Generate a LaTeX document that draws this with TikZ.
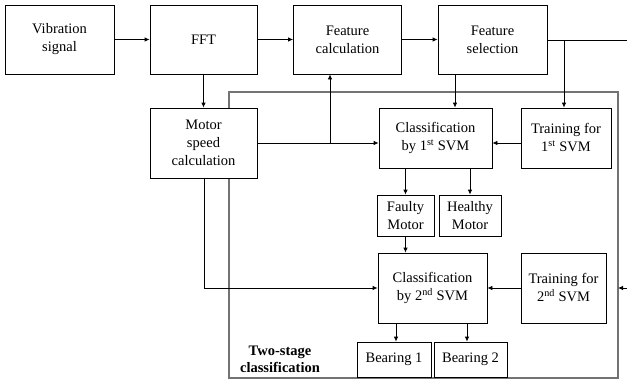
\documentclass[tikz,border=0pt]{standalone}
\usepackage{fontspec}
\setmainfont{Liberation Serif}
\usetikzlibrary{arrows.meta}
\tikzset{
  block/.style={
    draw=black,
    fill=white,
    line width=0.8pt,
    align=center,
    inner sep=1pt,
    font=\fontsize{14.5}{18}\selectfont
  },
  flow/.style={
    line width=0.8pt,
    -{Latex[length=5pt,width=4.5pt]}
  },
  wire/.style={line width=0.8pt},
  stage-frame/.style={draw=black!55, line width=1.4pt}
}

\begin{document}
\begin{tikzpicture}[x=1pt,y=-1pt]
  \useasboundingbox (0,0) rectangle (627,380);
  % Two-stage frame
  \draw[stage-frame] (229,92) rectangle (618,378);
  \node[font=\fontsize{14.5}{17}\selectfont\bfseries, align=center] (stage) at (280,359) {Two-stage\\classification};
  % Top row
  \node[block, minimum width=109pt, minimum height=69pt] (vib) at (59.5,39.5) {Vibration\\signal};
  \node[block, minimum width=107pt, minimum height=69pt] (fft) at (203.5,39.5) {FFT};
  \node[block, minimum width=108pt, minimum height=69pt] (fcalc) at (347.5,39.5) {Feature\\calculation};
  \node[block, minimum width=109pt, minimum height=69pt] (fsel) at (492.5,39.5) {Feature\\selection};
  % First stage
  \node[block, minimum width=107pt, minimum height=70pt] (speed) at (203.5,143) {Motor\\speed\\calculation};
  \node[block, minimum width=113pt, minimum height=60pt] (svm1) at (435.5,138) {Classification\\by 1\textsuperscript{st} SVM};
  \node[block, minimum width=90pt, minimum height=60pt] (train1) at (566,138) {Training for\\1\textsuperscript{st} SVM};
  \node[block, minimum width=57pt, minimum height=41pt] (faulty) at (405.5,215.5) {Faulty\\Motor};
  \node[block, minimum width=62pt, minimum height=41pt] (healthy) at (470,215.5) {Healthy\\Motor};
  % Second stage
  \node[block, minimum width=109pt, minimum height=70pt] (svm2) at (432.5,288) {Classification\\by 2\textsuperscript{nd} SVM};
  \node[block, minimum width=85pt, minimum height=70pt] (train2) at (563.5,288) {Training for\\2\textsuperscript{nd} SVM};
  \node[block, minimum width=74pt, minimum height=35pt] (bear1) at (394,359.5) {Bearing 1};
  \node[block, minimum width=73pt, minimum height=35pt] (bear2) at (470.5,359.5) {Bearing 2};
  % Free ends and branch points
  \coordinate (outR) at (627,40);
  \coordinate (inR) at (627,288);
  \coordinate (frameR) at (618,288);
  \coordinate (tapCalc) at (330,143);
  \coordinate (tapSel) at (455,74);
  \coordinate (tapTrain) at (564,40);
  \coordinate (bend) at (204,288);
  \coordinate (tapB1) at (396,323);
  \coordinate (tapB2) at (467,323);
  % Connectors
  \draw[flow] (vib) -- (fft);
  \draw[flow] (fft) -- (fcalc);
  \draw[flow] (fcalc) -- (fsel);
  \draw[wire] (fsel.east |- outR) -- (outR);
  \draw[flow] (tapTrain) -- (tapTrain |- train1.north);
  \draw[flow] (tapSel) -- (tapSel |- svm1.north);
  \draw[flow] (fft) -- (speed);
  \draw[flow] (speed.east) -- (speed.east -| svm1.west);
  \draw[flow] (tapCalc) -- (tapCalc |- fcalc.south);
  \draw[flow] (train1.west |- speed.east) -- (speed.east -| svm1.east);
  \draw[flow] (svm1.south -| faulty) -- (faulty);
  \draw[flow] (svm1.south -| healthy) -- (healthy);
  \draw[flow] (faulty) -- (faulty |- svm2.north);
  \draw[wire] (speed.south -| bend) -- (bend);
  \draw[flow] (bend) -- (svm2.west);
  \draw[flow] (train2) -- (svm2);
  \draw[flow] (inR) -- (frameR);
  \draw[flow] (tapB1) -- (tapB1 |- bear1.north);
  \draw[flow] (tapB2) -- (tapB2 |- bear2.north);
\end{tikzpicture}
\end{document}
